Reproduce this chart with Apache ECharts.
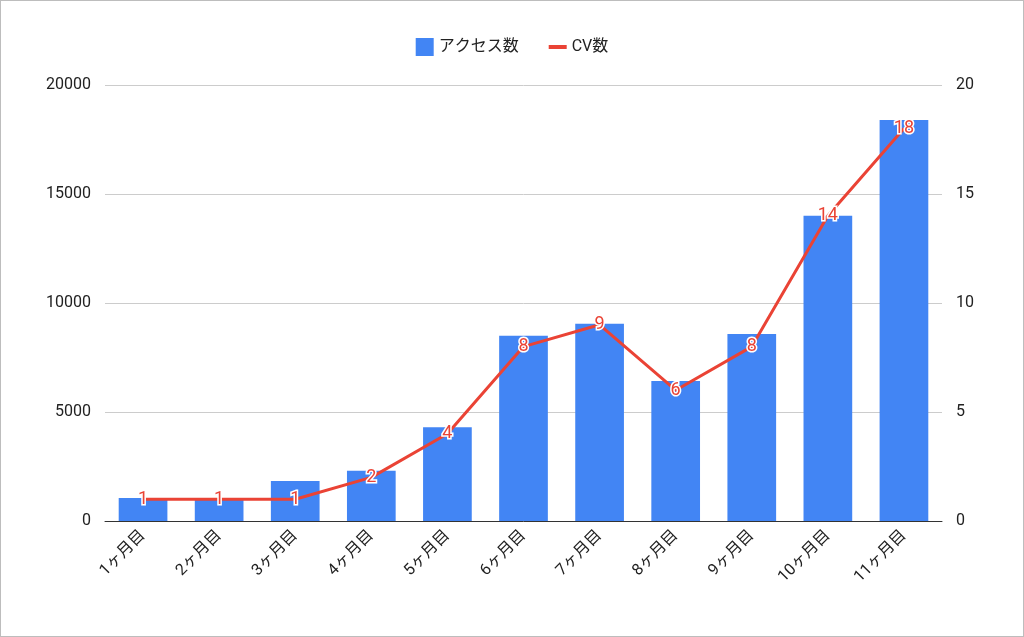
<!DOCTYPE html>
<html>
<head>
<meta charset="utf-8">
<script src="https://cdn.jsdelivr.net/npm/echarts@6/dist/echarts.min.js"></script>
<style>
  html, body { margin: 0; padding: 0; background: #fff; }
  #main { width: 1024px; height: 637px; box-sizing: border-box; border: 1px solid #bdbdbd; }
</style>
</head>
<body>
<div id="main"></div>
<script>
'use strict';

const categories = ['1ヶ月目', '2ヶ月目', '3ヶ月目', '4ヶ月目', '5ヶ月目', '6ヶ月目', '7ヶ月目', '8ヶ月目', '9ヶ月目', '10ヶ月目', '11ヶ月目'];
const access = [1050, 1060, 1830, 2300, 4300, 8500, 9050, 6420, 8580, 14000, 18400];
const cv = [1, 1, 1, 2, 4, 8, 9, 6, 8, 14, 18];

let mChart = echarts.init(document.getElementById('main'));

mChart.setOption({
    animation: false,
    textStyle: { fontFamily: 'Roboto, "Noto Sans CJK JP", sans-serif' },
    legend: {
        top: 32,
        itemWidth: 18, itemHeight: 18, itemGap: 30,
        textStyle: { fontSize: 16, color: '#222' },
        data: [
            { name: 'アクセス数', icon: 'rect' },
            { name: 'CV数', icon: 'path://M0,7 L18,7 L18,11 L0,11 Z', itemStyle: { color: '#ea4335' } }
        ]
    },
    grid: { left: 104, right: 81, top: 84, bottom: 115 },
    xAxis: {
        type: 'category',
        data: categories,
        axisTick: { show: false },
        axisLine: { lineStyle: { color: '#333' } },
        axisLabel: { rotate: 45, fontSize: 16, color: '#222', margin: 12 }
    },
    yAxis: [
        {
            type: 'value', min: 0, max: 20000, interval: 5000,
            axisLabel: { fontSize: 16, color: '#222', margin: 14, formatter: v => String(v) },
            splitLine: { lineStyle: { color: '#ccc' } }
        },
        {
            type: 'value', min: 0, max: 20, interval: 5,
            axisLabel: { fontSize: 16, color: '#222', margin: 14 },
            splitLine: { show: false }
        }
    ],
    series: [
        {
            name: 'アクセス数', type: 'bar', data: access,
            barWidth: '64%',
            itemStyle: { color: '#4285f4' }
        },
        {
            name: 'CV数', type: 'line', yAxisIndex: 1, data: cv,
            symbol: 'circle', symbolSize: 0, showSymbol: true,
            lineStyle: { color: '#ea4335', width: 3 },
            itemStyle: { color: '#ea4335' },
            label: {
                show: true, position: 'inside', fontSize: 18,
                color: '#ea4335', textBorderColor: '#fff', textBorderWidth: 3
            }
        }
    ]
});
</script>
</body>
</html>
